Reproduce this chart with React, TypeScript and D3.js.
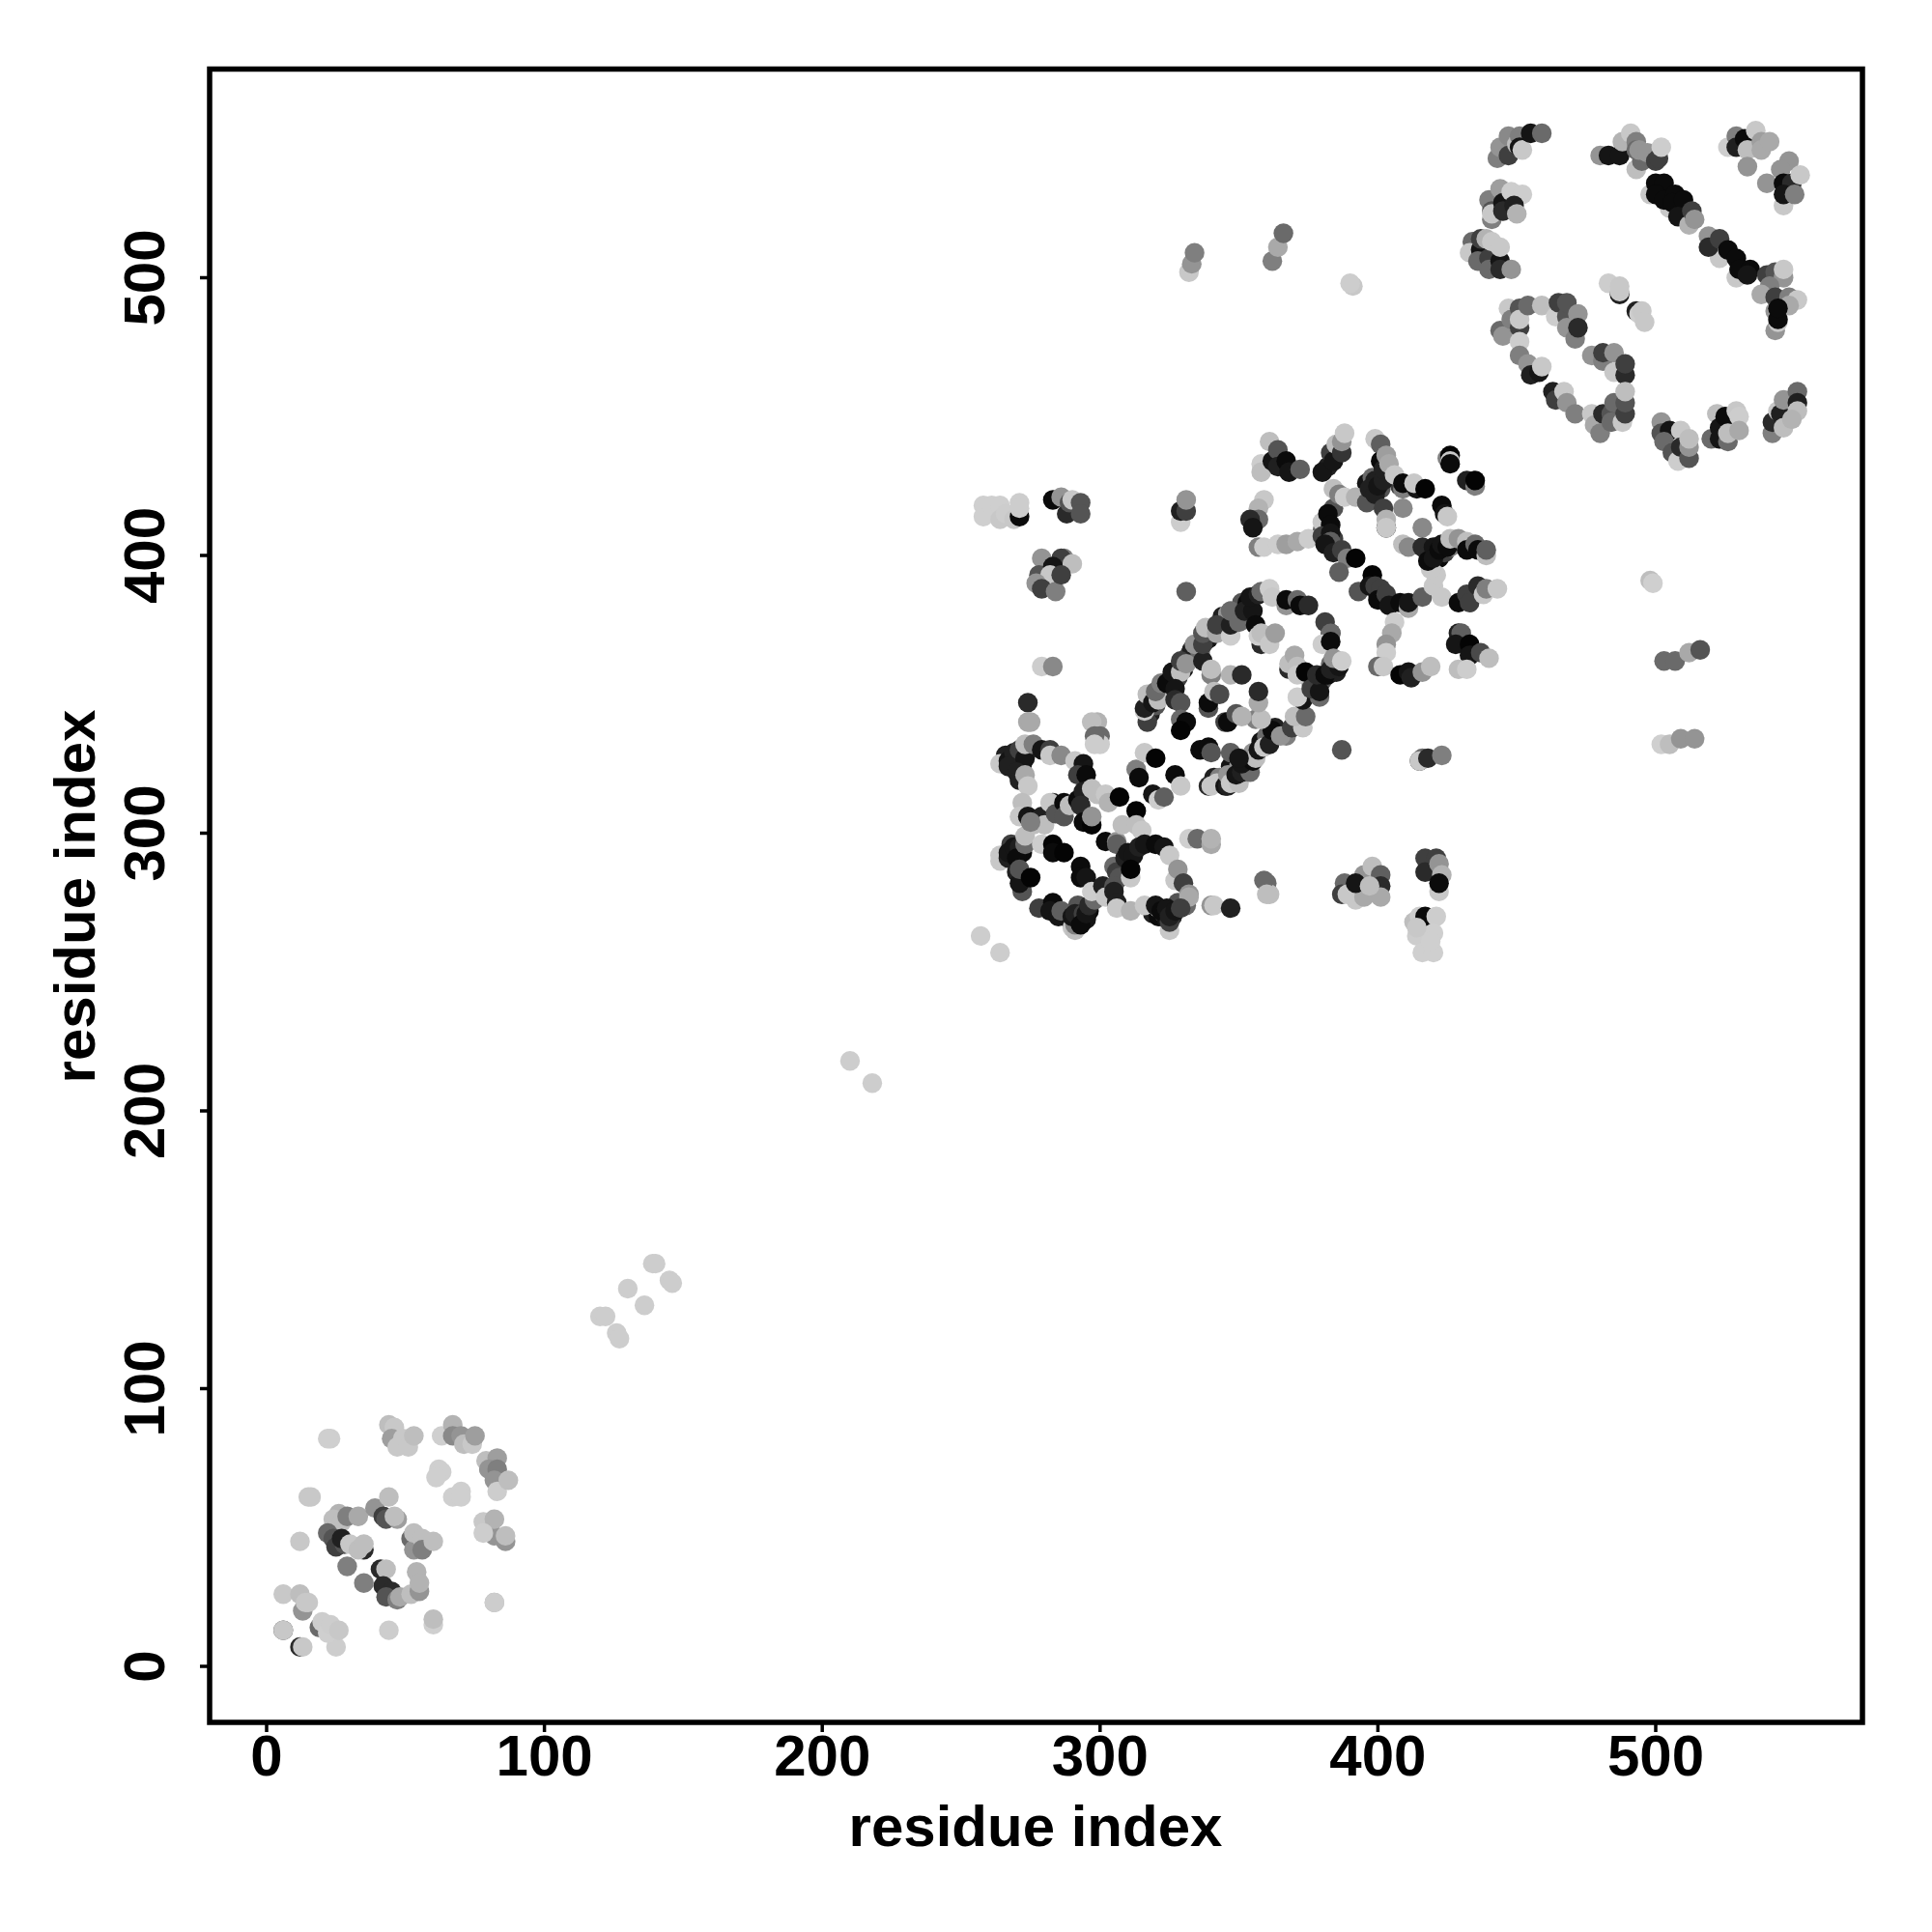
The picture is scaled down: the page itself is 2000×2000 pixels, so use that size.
import { scaleLinear } from 'd3'

type Contact = [number, number, number] // residue i, residue j, score (0 weak .. 1 strong)

const tickValues = [0, 100, 200, 300, 400, 500]
const axisLabel = 'residue index'

const domainA: Contact[] = [
  [23,82,.02],[22,82,.02],[44,87,.1],[46,86,.05],[45,82,.25],[49,82,.05],[47,79,.05],[51,79,.05],[53,83,.1],
  [63,83,.02],[67,87,.15],[67,83,.35],[70,83,.3],[71,80,.1],[74,80,.05],[75,83,.25],
  [62,71,.02],[63,70,.02],[61,68,.02],[67,61,.02],[70,63,.02],[70,61,.02],
  [79,74,.1],[83,75,.25],[80,71,.3],[83,71,.4],[82,67,.3],[83,63,.03],[87,67,.1],
  [78,52,.05],[82,47,.3],[82,53,.15],[78,48,.03],[86,45,.3],[86,47,.1],[82,23,.15],[82,23,.03],
  [15,61,.05],[16,61,.05],[12,45,.05],
  [26,55,.15],[24,53,.1],[27,52,.1],[29,54,.4],[33,54,.2],
  [39,57,.3],[42,54,.7],[43,53,.6],[44,61,.1],[47,53,.25],[46,54,.1],
  [22,48,.5],[24,46,.6],[25,43,.7],[28,44,.6],[27,46,.85],[30,44,.05],[35,42,.8],[33,42,.1],[35,44,.1],
  [29,36,.4],[35,30,.4],
  [52,46,.5],[53,42,.3],[53,48,.1],[56,46,.1],[56,42,.4],[60,45,.1],
  [41,35,.8],[43,35,.1],[54,34,.15],
  [42,29,.8],[45,27,.8],[43,25,.6],[47,24,.4],[48,25,.2],[52,26,.1],[55,27,.3],[55,30,.15],
  [6,26,.05],[13,20,.3],[12,26,.1],[14,23,.05],[15,23,.05],
  [6,13,.7],[6,13,.05],[12,7,.8],[13,7,.05],[25,7,.03],[44,13,.03],
  [60,15,.02],[60,17,.1],[19,14,.5],[20,16,.03],[22,12,.02],[23,15,.03],[26,13,.05],
]

const linker: Contact[] = [
  [120,126,.03],[122,126,.03],[126,120,.03],[127,118,.03],[130,136,.03],[136,130,.03],[139,145,.03],[140,145,.03],[145,139,.03],[146,138,.03],
  [210,218,.03],[218,210,.03],[257,263,.03],[264,257,.03],
]

const domainCUpper: Contact[] = [
  [332,502,.05],[333,505,.3],[334,509,.4],[362,506,.4],[364,511,.2],[366,516,.5],[391,497,.05],[390,498,.03],
  [498,391,.1],[499,390,.02],[502,332,.02],[505,332,.1],[509,334,.3],[514,334,.3],
  [503,362,.5],[507,362,.5],[512,365,.2],[516,366,.6],
  [443,543,.4],[444,547,.3],[447,551,.35],[447,544,.7],[450,548,.1],[451,551,.4],[451,547,.9],[452,546,.05],[455,552,.9],[459,552,.5],
  [441,521,.4],[440,528,.4],[441,524,.6],[441,523,.05],[444,532,.25],[445,527,.9],[445,524,.8],[448,531,.03],[452,530,.03],[449,526,.85],[450,523,.15],
  [434,513,.5],[433,509,.05],[437,510,.9],[437,514,.7],[439,514,.15],[436,506,.5],[440,507,.7],[440,503,.5],[441,513,.05],[444,506,.9],[444,503,.8],[444,511,.05],[448,503,.3],
]

const domainCDiagonal: Contact[] = [
  [480,544,.3],[483,544,.9],[487,544,.9],[488,549,.15],[493,539,.1],[495,542,.5],[491,552,.05],[493,549,.4],[493,546,.5],[494,546,.3],[497,545,.3],[500,542,.7],[501,543,.7],[502,547,.03],
  [498,530,.05],[505,525,.05],[500,534,.95],[503,534,.95],[500,530,.95],[503,528,.95],[507,530,.95],[506,527,.95],[510,528,.95],[508,522,.9],[512,519,.15],[513,524,.7],[514,521,.3],
  [519,515,.3],[523,507,.05],[529,500,.05],[519,511,.8],[523,514,.7],[526,510,.95],[529,507,.95],[530,503,.95],[534,503,.95],[533,501,.9],[540,501,.7],[543,502,.6],[546,500,.3],[546,503,.05],
  [541,497,.4],[538,494,.2],[543,493,.7],[548,493,.4],[551,492,.05],[548,490,.2],[543,481,.3],[543,488,.3],[544,484,.05],[544,485,.95],[544,489,.95],
  [526,547,.03],[529,551,.4],[529,547,.85],[532,550,.95],[533,546,.1],[533,540,.3],[536,553,.05],[538,549,.25],[538,546,.2],[541,549,.2],
  [548,542,.3],[545,539,.3],[540,534,.3],[546,526,.05],[546,534,.95],[549,534,.8],[546,530,.9],[552,537,.05],[550,530,.4],
]

const domainCLoop: Contact[] = [
  [444,481,.5],[445,479,.3],[447,489,.05],[448,485,.4],[451,489,.6],[451,482,.7],[451,485,.05],[451,477,.03],[454,490,.5],[459,490,.1],
  [451,472,.4],[454,469,.3],[455,465,.85],[458,466,.9],[459,468,.05],
  [464,486,.03],[465,491,.7],[468,486,.6],[468,491,.6],[472,487,.3],[468,482,.3],[471,478,.4],[472,482,.8],
  [477,472,.3],[481,470,.4],[481,473,.7],[485,473,.3],[485,466,.05],[489,465,.8],[489,469,.7],
  [483,498,.03],[487,494,.85],[487,495,.05],[487,497,.05],[493,488,.85],[494,487,.03],[495,488,.05],[496,484,.05],
  [463,459,.85],[464,456,.7],[467,459,.05],[468,455,.3],[471,451,.4],
  [477,451,.05],[478,447,.2],[480,444,.4],[481,451,.8],[484,451,.6],[484,448,.5],[485,455,.5],[488,448,.05],[489,451,.7],[489,455,.6],[489,459,.1],
  [502,448,.3],[502,444,.6],[505,445,.9],[503,441,.5],[506,437,.6],[508,434,.03],[509,445,.05],[509,439,.8],[512,435,.6],[512,439,.3],[512,442,.1],
  [520,442,.5],[522,451,.1],[523,446,.9],[523,442,.9],[525,450,.95],[526,441,.5],[526,444,.1],[529,452,.05],[530,450,.03],[530,445,.2],
  [542,444,.4],[542,448,.8],[544,452,.05],[545,451,.85],[546,446,.1],[546,456,.3],[551,459,.5],[551,455,.85],[551,452,.1],[549,449,.15],
]

const domainBOff: Contact[] = [
  [258,418,.02],[258,414,.02],[261,418,.02],[264,418,.02],[264,413,.05],[266,415,.03],[269,413,.05],[271,419,.03],[271,414,.95],[271,417,.03],
  [283,420,.95],[286,421,.3],[288,415,.8],[289,419,.6],[290,420,.05],[293,419,.6],[293,415,.6],
  [329,412,.03],[329,416,.85],[331,416,.7],[331,420,.3],
  [279,399,.3],[287,399,.4],[286,399,.7],[290,397,.1],[278,393,.6],[283,396,.9],[282,393,.05],[277,390,.3],[279,388,.7],[284,387,.4],[286,393,.7],
  [331,387,.55],[279,360,.03],[283,360,.35],
  [274,347,.8],[274,340,.2],[275,340,.2],[299,340,.15],[297,340,.1],[300,335,.5],[300,332,.03],
  [387,330,.6],[416,327,.5],[415,326,.85],[415,326,.05],[418,327,.8],[423,328,.4],
  [388,282,.5],[387,278,.7],[389,278,.05],[392,276,.05],[395,285,.3],[395,277,.2],[392,282,.9],[398,288,.1],[401,285,.55],[401,281,.8],[401,277,.2],[397,281,.1],
  [417,291,.7],[421,291,.7],[417,286,.8],[422,289,.3],[423,285,.15],[422,279,.05],[422,282,.95],
  [413,268,.1],[415,270,.03],[417,270,.95],[421,270,.03],[414,263,.03],[420,264,.02],[414,266,.05],[416,257,.02],[420,257,.02],[419,261,.02],
  [360,282,.5],[361,278,.1],
]

const bandInfill: Contact[] = [
  [318,343,.85],[320,346,.6],[321,350,.9],[323,352,.3],[325,355,.85],[328,356,.7],[330,359,.9],[332,364,.6],[333,366,.85],[336,365,.5],[339,370,.9],[343,373,.6],[344,378,.85],[346,379,.3],[349,378,.9],[351,383,.6],[353,383,.95],
  [341,320,.85],[343,320,.4],[347,324,.9],[350,324,.3],[352,326,.85],[353,324,.7],[355,329,.3],[358,333,.9],[360,335,.5],[363,338,.85],[376,354,.3],[377,355,.85],[380,355,.6],[382,357,.95],[383,361,.5],[385,358,.85],
  [266,328,.85],[268,325,.95],[270,327,.6],[272,325,.9],[268,293,.9],[270,294,.5],[272,293,.95],[268,296,.7],
  [289,269,.95],[291,268,.8],[293,269,.5],[295,269,.9],[292,274,.6],[296,272,.95],
  [319,271,.85],[321,270,.95],[323,271,.6],[324,269,.9],[326,270,.8],[328,275,.6],
  [408,425,.7],[396,426,.9],[398,428,.5],[399,427,.85],[401,424,.6],[382,410,.85],[380,409,.5],[384,406,.7],
  [418,401,.85],[420,401,.5],[422,399,.95],[424,401,.7],[426,403,.4],[400,386,.85],[402,384,.5],[405,383,.8],
]

const domainBLower: Contact[] = [
  [264,325,.05],[267,326,.9],[269,329,.85],[267,324,.85],[271,330,.7],[273,327,.9],[273,332,.1],[276,332,.4],[279,330,.9],[282,330,.7],[282,328,.05],[286,328,.35],
  [270,322,.85],[271,319,.85],[273,321,.2],[274,317,.05],
  [291,326,.05],[294,325,.9],[292,321,.7],[295,321,.95],[298,335,.5],[298,332,.03],
  [272,311,.1],[271,306,.05],[274,306,.9],[276,303,.1],[279,306,.85],[280,303,.1],[283,311,.85],[282,311,.05],[284,307,.6],[287,311,.95],[287,306,.6],[289,310,.1],
  [292,312,.95],[294,315,.85],[293,310,.8],[297,316,.1],[299,314,.1],[302,314,.05],[303,311,.15],[307,313,.98],[294,304,.95],[297,303,.98],[297,306,.3],
  [264,292,.05],[264,290,.05],[267,291,.85],[267,293,.9],[269,295,.9],[271,295,.85],[270,291,.95],[273,296,.5],[273,299,.1],[275,304,.4],
  [279,296,.03],[283,296,.98],[283,293,.95],[287,293,.98],
  [270,286,.85],[272,279,.6],[271,282,.9],[271,287,.6],[275,284,.98],
  [293,288,.95],[293,284,.95],[295,284,.9],
  [278,273,.7],[283,275,.95],[282,272,.9],[285,270,.9],[286,272,.55],
  [290,266,.05],[291,265,.1],[291,267,.4],[290,270,.9],[292,269,.9],[291,271,.85],[294,271,.7],[293,267,.95],[295,271,.9],[296,274,.8],[298,276,.5],[297,279,.03],[301,281,.85],[302,277,.05],
  [305,288,.5],[306,286,.7],[307,284,.6],[305,281,.6],[305,279,.85],[306,275,.85],[306,273,.05],[311,272,.15],
  [302,297,.95],[306,297,.3],[306,296,.55],[308,303,.1],[309,291,.85],[310,293,.9],[313,308,.98],[313,303,.1],[315,301,.05],[312,292,.9],[314,295,.85],[316,296,.9],[320,296,.95],[323,295,.9],[325,292,.05],
  [311,284,.05],[311,287,.98],
  [327,283,.05],[328,287,.3],[330,282,.7],[331,274,.5],[332,278,.3],[332,277,.2],
  [316,274,.05],[321,273,.1],[320,274,.9],[322,272,.95],[324,273,.9],[325,265,.05],[325,268,.7],[325,270,.85],[327,272,.9],[329,273,.7],
  [340,274,.3],[341,274,.05],[347,273,.85],
  [359,283,.5],[360,278,.1],[332,298,.02],[335,298,.5],[340,296,.2],[340,298,.15],
  [313,323,.4],[314,320,.95],[316,329,.05],[320,327,.98],
  [319,314,.9],[321,312,.03],[323,313,.55],[327,321,.95],[329,317,.05],
]

const domainBCentre: Contact[] = [
  [317,340,.7],[316,344,.05],[316,345,.85],[317,350,.1],[319,347,.9],[321,348,.1],[320,351,.5],[322,354,.4],[324,354,.95],[326,358,.9],[329,358,.1],[327,352,.9],[327,348,.8],[329,347,.6],
  [329,362,.7],[331,361,.3],[334,368,.3],[337,362,.85],[337,368,.7],[337,372,.6],[338,374,.1],[342,372,.2],[342,375,.7],
  [340,357,.4],[340,359,.1],[347,357,.15],[351,357,.8],
  [347,371,.03],[347,375,.85],[347,380,.5],[350,376,.5],[352,380,.85],[355,380,.9],[354,385,.9],[356,375,.95],[357,386,.85],[358,387,.5],[361,388,.03],[362,385,.05],
  [358,368,.8],[357,371,.03],[358,372,.1],[361,368,.05],[363,372,.25],
  [367,382,.3],[367,384,.95],[371,384,.5],[372,382,.95],[375,382,.8],
  [381,376,.7],[383,372,.85],[383,372,.5],[380,368,.03],[383,369,.95],
  [368,359,.8],[368,361,.1],[370,364,.2],[371,360,.1],[371,357,.05],[374,358,.98],
  [339,317,.8],[340,317,.05],[342,318,.05],[345,317,.9],[346,317,.85],[346,321,.3],[347,318,.05],[350,318,.1],[349,321,.9],[351,322,.85],[354,322,.5],[351,325,.9],[355,326,.95],[356,327,.1],[357,330,.9],[359,331,.05],[361,332,.85],
  [367,335,.4],[362,337,.95],[365,335,.3],[369,338,.7],[373,338,.05],[370,342,.1],[374,342,.5],[356,341,.4],[358,341,.1],
  [373,348,.9],[371,349,.03],[379,349,.5],[376,352,.7],[379,351,.9],[378,357,.8],[381,357,.95],[383,359,.85],[386,360,.9],[384,363,.3],[387,362,.03],
  [336,330,.95],[339,331,.95],[340,329,.6],[347,329,.55],[350,327,.9],
  [329,341,.5],[331,340,.95],[329,337,.98],
  [339,345,.6],[339,347,.95],[341,351,.1],[343,350,.65],
  [357,347,.2],[357,351,.8],
  [345,340,.7],[346,340,.95],[349,343,.6],[351,342,.15],
]

const domainBUpper: Contact[] = [
  [361,441,.1],[358,433,.03],[358,430,.1],[362,434,.9],[364,438,.6],[364,432,.85],[367,434,.95],[368,430,.9],[372,431,.55],
  [382,432,.85],[380,430,.9],[383,437,.7],[384,434,.9],[385,440,.1],[387,437,.75],[387,441,.3],[388,444,.05],
  [359,420,.05],[357,417,.15],[357,413,.5],[354,413,.8],[355,410,.9],
  [357,403,.4],[359,403,.03],[364,404,.03],[367,404,.25],[371,405,.2],[375,406,.03],
  [384,424,.1],[384,417,.6],[386,422,.4],[388,421,.03],[392,421,.15],[396,419,.6],[397,424,.85],[399,422,.85],[400,425,.9],[402,427,.85],
  [399,442,.05],[401,440,.55],[401,434,.95],[402,431,.85],[403,436,.25],[404,433,.2],[406,429,.05],[402,417,.7],[403,410,.95],[403,413,.15],[403,410,.05],
  [409,424,.4],[409,426,.95],[414,424,.9],[413,426,.05],[417,424,.98],
  [409,417,.35],[416,410,.35],[423,418,.95],[424,415,.9],[425,414,.05],
  [425,435,.4],[426,436,.98],[426,434,.05],[426,433,.95],[432,427,.85],[435,425,.4],[435,427,.98],
  [380,412,.05],[382,415,.95],[383,411,.95],[380,407,.7],[383,408,.9],
]

const domainBUpperRing: Contact[] = [
  [383,405,.55],[381,404,.9],[384,401,.85],[387,402,.7],[389,399,.4],[392,399,.98],[386,394,.55],
  [398,393,.98],[393,387,.6],[397,389,.9],[399,389,.7],[401,388,.7],[400,384,.95],[403,386,.7],[404,382,.9],[408,383,.95],[411,381,.2],[411,383,.9],[416,385,.55],[420,389,.05],[423,385,.05],[421,393,.05],[419,395,.05],
  [406,376,.03],[405,372,.2],[403,368,.3],[403,365,.03],[400,360,.5],[402,360,.05],
  [408,357,.98],[411,358,.9],[412,356,.85],[416,358,.3],[419,360,.1],
  [409,404,.1],[411,403,.35],[416,403,.8],[418,398,.95],[420,403,.9],[420,399,.9],[422,402,.95],[423,404,.9],[425,403,.95],[426,406,.1],[429,406,.3],[432,405,.1],[432,402,.95],[435,404,.5],[436,402,.95],[439,400,.1],[439,402,.55],
  [429,383,.95],[432,386,.7],[433,383,.7],[436,389,.8],[438,386,.05],[439,388,.4],[443,388,.05],
  [429,372,.85],[430,372,.55],[428,368,.9],[433,368,.98],[433,364,.9],[437,365,.65],[429,359,.1],[432,359,.03],[440,363,.1],
]

const contactGroups = [domainA, linker, domainCUpper, domainCDiagonal, domainCLoop, domainBOff, bandInfill, domainBLower, domainBCentre, domainBUpper, domainBUpperRing]

export default function App() {
  const size = 2000
  const frame = { left: 217, right: 1928, top: 71.5, bottom: 1783 }
  const fontFamily = '"Liberation Sans", Arial, sans-serif'

  const x = scaleLinear().domain([0, 500]).range([276, 1714])
  const y = scaleLinear().domain([0, 500]).range([1725, 287.5])
  const grey = scaleLinear<string>().domain([0, 1]).range(['#d3d3d3', '#000000'])

  return (
    <svg
      width={size}
      height={size}
      viewBox={`0 0 ${size} ${size}`}
      style={{ position: 'absolute', left: 0, top: 0, background: '#fff' }}
    >
      {contactGroups.map((group, g) => (
        <g key={g}>
          {group.map(([i, j, score], k) => (
            <circle key={k} cx={x(i)} cy={y(j)} r={10.2} fill={grey(score)} />
          ))}
        </g>
      ))}
      <rect
        x={frame.left}
        y={frame.top}
        width={frame.right - frame.left}
        height={frame.bottom - frame.top}
        fill="none"
        stroke="#000"
        strokeWidth={5.5}
      />
      {tickValues.map((t) => (
        <g key={t}>
          <line x1={x(t)} x2={x(t)} y1={frame.bottom} y2={frame.bottom + 10} stroke="#000" strokeWidth={3.5} />
          <text x={x(t)} y={1838} textAnchor="middle" fontFamily={fontFamily} fontWeight="bold" fontSize={60}>
            {t}
          </text>
          <line x1={frame.left} x2={frame.left - 10} y1={y(t)} y2={y(t)} stroke="#000" strokeWidth={3.5} />
          <text
            transform={`translate(170,${y(t)}) rotate(-90)`}
            textAnchor="middle"
            fontFamily={fontFamily}
            fontWeight="bold"
            fontSize={60}
          >
            {t}
          </text>
        </g>
      ))}
      <text x={1072} y={1911} textAnchor="middle" fontFamily={fontFamily} fontWeight="bold" fontSize={60}>
        {axisLabel}
      </text>
      <text
        transform="translate(98,928) rotate(-90)"
        textAnchor="middle"
        fontFamily={fontFamily}
        fontWeight="bold"
        fontSize={60}
      >
        {axisLabel}
      </text>
    </svg>
  )
}
